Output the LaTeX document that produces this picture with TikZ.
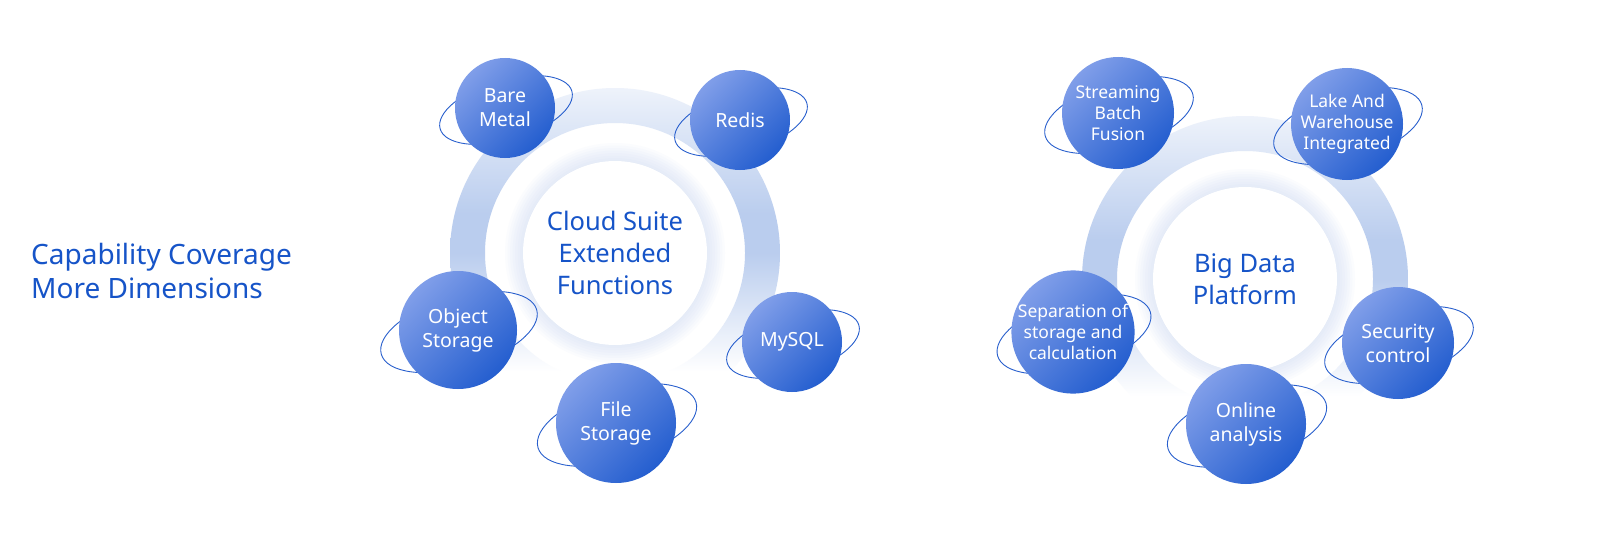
\documentclass[tikz,border=0pt]{standalone}
\usepackage{fontspec}
\setmainfont{Noto Sans}
\definecolor{capblue}{RGB}{22,84,200}
\definecolor{balllight}{RGB}{128,158,233}
\definecolor{balldark}{RGB}{36,94,207}
\definecolor{orbitblue}{RGB}{40,95,205}
\definecolor{ringblue}{RGB}{186,205,238}
\definecolor{glowblue}{RGB}{200,214,244}
\pgfdeclareverticalshading{bandshade}{100bp}{color(0bp)=(white); color(32bp)=(white); color(50bp)=(ringblue); color(56bp)=(ringblue); color(75bp)=(ringblue!25); color(100bp)=(ringblue!25)}
\begin{document}
\begin{tikzpicture}[x=1pt, y=-1pt, line join=round, line cap=round,
  ball/.style={circle, inner sep=0pt, minimum size=#1, top color=balllight, bottom color=balldark, shading angle=45, text=white, align=center},
  bigtext/.style={font=\fontsize{19.5}{24}\selectfont},
  smalltext/.style={font=\fontsize{17.5}{21}\selectfont},
  orbit/.style={draw=orbitblue, line width=0.9pt},
  hub/.style={circle, fill=white, inner sep=0pt, minimum size=184pt, text=capblue, align=center, font=\fontsize{25.5}{32}\selectfont}]
  \def\W{1598} \def\H{543}
  \useasboundingbox (0,0) rectangle (\W,\H);
  \fill[white] (0,0) rectangle (\W,\H);

  % heading
  \node[anchor=west, inner sep=0pt, text=capblue, align=left, font=\fontsize{28}{34}\selectfont] (title) at (31,271) {Capability Coverage\\More Dimensions};

  % rings
  \foreach \c/\x/\y/\ro/\ri in {ca/615/253/165/130, cb/1245/279/163/128} {
    \coordinate (\c) at (\x,\y);
    \shade[shading=bandshade, even odd rule] (\c) circle (\ro) (\c) circle (\ri);
    \foreach \k in {1,...,8}
      \fill[glowblue, opacity=0.07] (\c) circle (90+2.5*\k);
  }
  \node[hub] (cloud) at (ca) {Cloud Suite\\Extended\\Functions};
  \node[hub] (bigdata) at (cb) {Big Data\\Platform};

  % orbits
  \foreach \x/\y/\r in {505/108/50, 740/120/50, 458/330/59, 792/342/50, 616/423/60,
                        1118/113/56, 1347/124/56, 1073/332/58, 1398/343/56, 1246/424/60}
    \draw[orbit, rotate around={16:(\x+1,\y+2)}] (\x+1,\y+2) ellipse [x radius=1.37*\r, y radius=0.6*\r];

  % left group
  \node[ball=100pt, bigtext] (bare) at (505,108) {Bare\\Metal};
  \node[ball=100pt, bigtext] (redis) at (740,120) {Redis};
  \node[ball=118pt, bigtext] (object) at (458,330) {Object\\Storage};
  \node[ball=100pt, bigtext] (mysql) at (792,342) {MySQL};
  \node[ball=120pt, bigtext] (file) at (616,423) {File\\Storage};

  % right group
  \node[ball=112pt, smalltext] (stream) at (1118,113) {Streaming\\Batch\\Fusion};
  \node[ball=112pt, smalltext] (lake) at (1347,124) {Lake And\\Warehouse\\Integrated};
  \node[ball=116pt, smalltext] (separ) at (1073,332) {Separation of\\storage and\\calculation};
  \node[ball=112pt, bigtext] (security) at (1398,343) {Security\\control};
  \node[ball=120pt, bigtext] (online) at (1246,424) {Online\\analysis};
\end{tikzpicture}
\end{document}
